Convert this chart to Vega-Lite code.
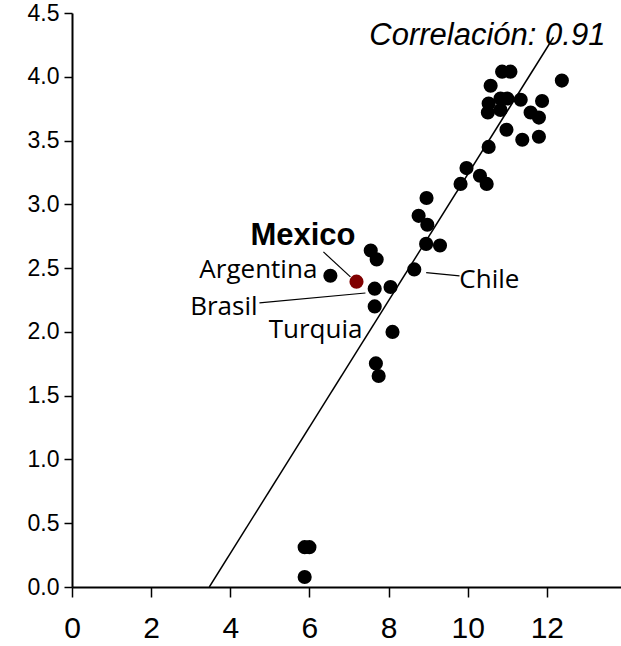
{
  "$schema": "https://vega.github.io/schema/vega-lite/v6.json",
  "autosize": "none",
  "padding": {"left": 72, "top": 13, "right": 0, "bottom": 59},
  "width": 550,
  "height": 574,
  "background": "white",
  "config": {
    "view": {"stroke": null},
    "axis": {"grid": false, "domainColor": "black", "tickColor": "black", "labelColor": "black", "labelFont": "Liberation Sans", "title": null}
  },
  "datasets": {
    "countries": [
      {"x": 12.38, "y": 3.97, "name": ""},
      {"x": 10.87, "y": 4.04, "name": ""},
      {"x": 11.08, "y": 4.04, "name": ""},
      {"x": 10.58, "y": 3.93, "name": ""},
      {"x": 10.53, "y": 3.79, "name": ""},
      {"x": 10.51, "y": 3.72, "name": ""},
      {"x": 10.83, "y": 3.83, "name": ""},
      {"x": 11.0, "y": 3.83, "name": ""},
      {"x": 10.83, "y": 3.74, "name": ""},
      {"x": 11.34, "y": 3.82, "name": ""},
      {"x": 11.88, "y": 3.81, "name": ""},
      {"x": 11.59, "y": 3.72, "name": ""},
      {"x": 11.8, "y": 3.68, "name": ""},
      {"x": 10.98, "y": 3.585, "name": ""},
      {"x": 11.38, "y": 3.506, "name": ""},
      {"x": 11.8, "y": 3.53, "name": ""},
      {"x": 10.53, "y": 3.45, "name": ""},
      {"x": 9.97, "y": 3.284, "name": ""},
      {"x": 9.82, "y": 3.16, "name": ""},
      {"x": 10.31, "y": 3.224, "name": ""},
      {"x": 10.48, "y": 3.16, "name": ""},
      {"x": 8.96, "y": 3.05, "name": ""},
      {"x": 8.76, "y": 2.91, "name": ""},
      {"x": 8.98, "y": 2.84, "name": ""},
      {"x": 8.95, "y": 2.69, "name": ""},
      {"x": 9.3, "y": 2.677, "name": ""},
      {"x": 8.65, "y": 2.49, "name": "Chile"},
      {"x": 7.55, "y": 2.638, "name": ""},
      {"x": 7.7, "y": 2.568, "name": ""},
      {"x": 6.53, "y": 2.44, "name": "Argentina"},
      {"x": 7.19, "y": 2.394, "name": "Mexico"},
      {"x": 7.65, "y": 2.339, "name": "Brasil"},
      {"x": 8.05, "y": 2.352, "name": ""},
      {"x": 7.65, "y": 2.2, "name": ""},
      {"x": 8.1, "y": 2.0, "name": ""},
      {"x": 7.68, "y": 1.753, "name": ""},
      {"x": 7.75, "y": 1.654, "name": ""},
      {"x": 5.88, "y": 0.3125, "name": ""},
      {"x": 6.0, "y": 0.3125, "name": ""},
      {"x": 5.88, "y": 0.078, "name": ""}
    ],
    "fit": [
      {"x": 3.47, "y": 0},
      {"x": 12.17, "y": 4.31}
    ],
    "leaders": [
      {"x": 6.354, "y": 2.627, "x2": 7.037, "y2": 2.431},
      {"x": 4.737, "y": 2.227, "x2": 7.416, "y2": 2.305},
      {"x": 8.951, "y": 2.465, "x2": 9.793, "y2": 2.439}
    ],
    "labelsRight": [
      {"x": 6.2, "y": 2.423, "label": "Argentina"},
      {"x": 4.69, "y": 2.132, "label": "Brasil"},
      {"x": 7.34, "y": 1.953, "label": "Turquia"}
    ],
    "labelsLeft": [
      {"x": 9.79, "y": 2.345, "label": "Chile"}
    ]
  },
  "layer": [
    {
      "mark": {"type": "rule", "color": "black", "strokeWidth": 2},
      "encoding": {"y": {"datum": 4.5, "type": "quantitative", "scale": {"domain": [0, 4.5]}}}
    },
    {
      "data": {"name": "fit"},
      "mark": {"type": "line", "color": "black", "strokeWidth": 1.5, "clip": true},
      "encoding": {
        "x": {
          "field": "x", "type": "quantitative",
          "scale": {"domain": [0, 13.9], "nice": false, "zero": false},
          "axis": {"values": [0, 2, 4, 6, 8, 10, 12], "labelFontSize": 30, "tickSize": 10, "tickWidth": 1.5, "domainWidth": 2, "labelPadding": 16, "labelFlush": false}
        },
        "y": {
          "field": "y", "type": "quantitative",
          "scale": {"domain": [0, 4.5], "nice": false},
          "axis": {"values": [0, 0.5, 1, 1.5, 2, 2.5, 3, 3.5, 4, 4.5], "format": ".1f", "labelFontSize": 23, "tickSize": 8, "tickWidth": 1.5, "domainWidth": 2, "labelPadding": 5, "labelFlush": false}
        }
      }
    },
    {
      "data": {"name": "leaders"},
      "mark": {"type": "rule", "color": "black", "strokeWidth": 1.2},
      "encoding": {
        "x": {"field": "x", "type": "quantitative"},
        "y": {"field": "y", "type": "quantitative"},
        "x2": {"field": "x2"},
        "y2": {"field": "y2"}
      }
    },
    {
      "data": {"name": "countries"},
      "mark": {"type": "point", "filled": true, "size": 200, "opacity": 1},
      "encoding": {
        "x": {"field": "x", "type": "quantitative"},
        "y": {"field": "y", "type": "quantitative"},
        "color": {
          "condition": {"test": "datum.name === 'Mexico'", "value": "#800000"},
          "value": "black"
        }
      }
    },
    {
      "data": {"name": "labelsRight"},
      "mark": {"type": "text", "align": "right", "baseline": "alphabetic", "font": "Open Sans", "fontSize": 26, "color": "black"},
      "encoding": {
        "x": {"field": "x", "type": "quantitative"},
        "y": {"field": "y", "type": "quantitative"},
        "text": {"field": "label"}
      }
    },
    {
      "data": {"name": "labelsLeft"},
      "mark": {"type": "text", "align": "left", "baseline": "alphabetic", "font": "Open Sans", "fontSize": 26, "color": "black"},
      "encoding": {
        "x": {"field": "x", "type": "quantitative"},
        "y": {"field": "y", "type": "quantitative"},
        "text": {"field": "label"}
      }
    },
    {
      "data": {"values": [{"x": 4.51, "y": 2.682, "label": "Mexico"}]},
      "mark": {"type": "text", "align": "left", "baseline": "alphabetic", "font": "Liberation Sans", "fontWeight": "bold", "fontSize": 31, "color": "black"},
      "encoding": {
        "x": {"field": "x", "type": "quantitative"},
        "y": {"field": "y", "type": "quantitative"},
        "text": {"field": "label"}
      }
    },
    {
      "data": {"values": [{"x": 13.48, "y": 4.252, "label": "Correlación: 0.91"}]},
      "mark": {"type": "text", "align": "right", "baseline": "alphabetic", "font": "Liberation Sans", "fontStyle": "italic", "fontSize": 31, "color": "black"},
      "encoding": {
        "x": {"field": "x", "type": "quantitative"},
        "y": {"field": "y", "type": "quantitative"},
        "text": {"field": "label"}
      }
    }
  ]
}
